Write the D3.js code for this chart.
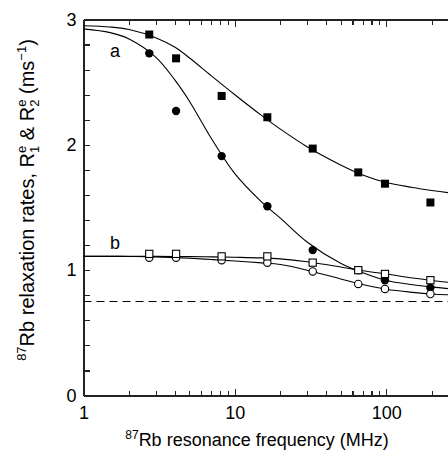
<!DOCTYPE html>
<meta charset="utf-8">
<style>
    body { margin: 0; background: white; }
    svg { display: block; font-family: "Liberation Sans", Arial, Helvetica, sans-serif; }
    .axis path, .axis line { stroke: #222; stroke-width: 1.2; shape-rendering: crispEdges; }
    .axis text { font-size: 18px; fill: black; }
    .fit { fill: none; stroke: black; stroke-width: 1.1; }
</style>
<body>
<script src="https://cdn.jsdelivr.net/npm/d3@7"></script>
<script>
    // measured points (MHz, ms^-1)
    var freq = [2.72, 4.09, 8.18, 16.4, 32.7, 65.4, 98.2, 196];
    var r2a = [2.88, 2.69, 2.39, 2.22, 1.97, 1.78, 1.69, 1.54];
    var r1a = [2.73, 2.27, 1.91, 1.51, 1.16, 1.00, 0.92, 0.86];
    var r2b = [1.13, 1.13, 1.11, 1.11, 1.06, 1.00, 0.97, 0.92];
    var r1b = [1.10, 1.10, 1.08, 1.06, 0.99, 0.89, 0.85, 0.81];

    // fitted curves
    var fitFreq = [1, 1.5, 2, 3, 4, 5, 7, 10, 15, 20, 30, 50, 70, 100, 150, 200, 300, 500, 1000];
    var fitR2a = [2.95, 2.94, 2.92, 2.855, 2.78, 2.695, 2.55, 2.40, 2.235, 2.125, 1.985, 1.84, 1.76, 1.70, 1.66, 1.635, 1.61, 1.59, 1.58];
    var fitR1a = [2.925, 2.895, 2.845, 2.70, 2.52, 2.35, 2.05, 1.77, 1.545, 1.415, 1.225, 1.055, 0.98, 0.918, 0.884, 0.866, 0.845, 0.83, 0.82];
    var fitR2b = [1.11, 1.11, 1.11, 1.11, 1.109, 1.108, 1.106, 1.103, 1.098, 1.09, 1.067, 1.025, 0.995, 0.97, 0.937, 0.918, 0.895, 0.88, 0.87];
    var fitR1b = [1.11, 1.11, 1.109, 1.106, 1.10, 1.095, 1.085, 1.073, 1.058, 1.045, 1.0, 0.93, 0.885, 0.848, 0.823, 0.81, 0.80, 0.79, 0.785];

    var dashLevel = 0.75;
    var xMajor = [1, 10, 100, 1000];
    var xLabels = ['1', '10', '100', ''];
    var yMajor = [0, 1, 2, 3];
    var yLabels = ['0', '1', '2', '3'];

    var width = 448, height = 455;
    var x = d3.scaleLog().domain([1, 1000]).range([83.5, 537.5]);
    var y = d3.scaleLinear().domain([0, 3]).range([395.5, 19.5]);

    var svg = d3.select('body').append('svg')
        .attr('width', width)
        .attr('height', height);

    var xMinor = x.ticks().filter(function(d) { return xMajor.indexOf(d) < 0; });
    var yMinor = d3.range(1, 15).map(function(i) { return i * 0.2; })
        .filter(function(d) { return Math.abs(d - Math.round(d)) > 1e-6; });

    // bottom axis
    svg.append('g').attr('class', 'axis')
        .attr('transform', 'translate(0,' + y(0) + ')')
        .call(d3.axisBottom(x).tickValues(xMajor).tickSizeInner(-7).tickSizeOuter(0)
            .tickPadding(11).tickFormat(function(d, i) { return xLabels[i]; }));
    svg.append('g').attr('class', 'axis')
        .attr('transform', 'translate(0,' + y(0) + ')')
        .call(d3.axisBottom(x).tickValues(xMinor).tickSizeInner(-5).tickSizeOuter(0).tickFormat(''));

    // top axis
    svg.append('g').attr('class', 'axis')
        .attr('transform', 'translate(0,' + y(3) + ')')
        .call(d3.axisTop(x).tickValues(xMajor).tickSizeInner(-7).tickSizeOuter(0).tickFormat(''));
    svg.append('g').attr('class', 'axis')
        .attr('transform', 'translate(0,' + y(3) + ')')
        .call(d3.axisTop(x).tickValues(xMinor).tickSizeInner(-5).tickSizeOuter(0).tickFormat(''));

    // left axis
    svg.append('g').attr('class', 'axis')
        .attr('transform', 'translate(' + x(1) + ',0)')
        .call(d3.axisLeft(y).tickValues(yMajor).tickSizeInner(-6).tickSizeOuter(0)
            .tickPadding(7).tickFormat(function(d, i) { return yLabels[i]; }));
    svg.append('g').attr('class', 'axis')
        .attr('transform', 'translate(' + x(1) + ',0)')
        .call(d3.axisLeft(y).tickValues(yMinor).tickSizeInner(-6).tickSizeOuter(0).tickFormat(''));

    // dashed level
    svg.append('line')
        .attr('x1', x(1)).attr('x2', x(1000))
        .attr('y1', y(dashLevel)).attr('y2', y(dashLevel))
        .attr('stroke', 'black').attr('stroke-width', 1)
        .attr('stroke-dasharray', '8,5');

    var line = d3.line()
        .x(function(d) { return x(d[0]); })
        .y(function(d) { return y(d[1]); })
        .curve(d3.curveCatmullRom.alpha(0.5));

    [fitR2b, fitR1b, fitR2a, fitR1a].forEach(function(vals) {
        svg.append('path').attr('class', 'fit')
            .attr('d', line(d3.zip(fitFreq, vals)));
    });

    function pts(vals) { return d3.zip(freq, vals); }

    // markers
    svg.selectAll('rect.r2a').data(pts(r2a)).enter().append('rect')
        .attr('x', function(d) { return x(d[0]) - 4; })
        .attr('y', function(d) { return y(d[1]) - 4; })
        .attr('width', 8).attr('height', 8).attr('fill', 'black');

    svg.selectAll('circle.r1a').data(pts(r1a)).enter().append('circle')
        .attr('cx', function(d) { return x(d[0]); })
        .attr('cy', function(d) { return y(d[1]); })
        .attr('r', 4.2).attr('fill', 'black');

    svg.selectAll('circle.r1b').data(pts(r1b)).enter().append('circle')
        .attr('cx', function(d) { return x(d[0]); })
        .attr('cy', function(d) { return y(d[1]); })
        .attr('r', 3.7).attr('fill', 'white').attr('stroke', 'black').attr('stroke-width', 1.1);

    svg.selectAll('rect.r2b').data(pts(r2b)).enter().append('rect')
        .attr('x', function(d) { return x(d[0]) - 3.6; })
        .attr('y', function(d) { return y(d[1]) - 3.6; })
        .attr('width', 7.2).attr('height', 7.2)
        .attr('fill', 'white').attr('stroke', 'black').attr('stroke-width', 1.1);

    // curve labels
    svg.append('text').attr('x', 110).attr('y', 57).attr('font-size', 18).text('a');
    svg.append('text').attr('x', 110).attr('y', 249).attr('font-size', 18).text('b');

    // x title
    var xt = svg.append('text').attr('x', 257).attr('y', 446)
        .attr('text-anchor', 'middle').attr('font-size', 18);
    xt.append('tspan').attr('font-size', 12).attr('dy', -7).text('87');
    xt.append('tspan').attr('dy', 7).text('Rb resonance frequency (MHz)');

    // y title
    var yt = svg.append('text')
        .attr('transform', 'translate(34,200) rotate(-90)')
        .attr('text-anchor', 'middle').attr('font-size', 20);
    yt.append('tspan').attr('font-size', 13).attr('dy', -8).text('87');
    yt.append('tspan').attr('dy', 8).text('Rb relaxation rates, R');
    yt.append('tspan').attr('font-size', 13).attr('dy', -8).text('e');
    yt.append('tspan').attr('font-size', 13).attr('dx', -7.2).attr('dy', 13).text('1');
    yt.append('tspan').attr('dy', -5).text(' & R');
    yt.append('tspan').attr('font-size', 13).attr('dy', -8).text('e');
    yt.append('tspan').attr('font-size', 13).attr('dx', -7.2).attr('dy', 13).text('2');
    yt.append('tspan').attr('dy', -5).text(' (ms');
    yt.append('tspan').attr('font-size', 13).attr('dy', -8).text('\u22121');
    yt.append('tspan').attr('dy', 8).text(')');
</script>
</body>
